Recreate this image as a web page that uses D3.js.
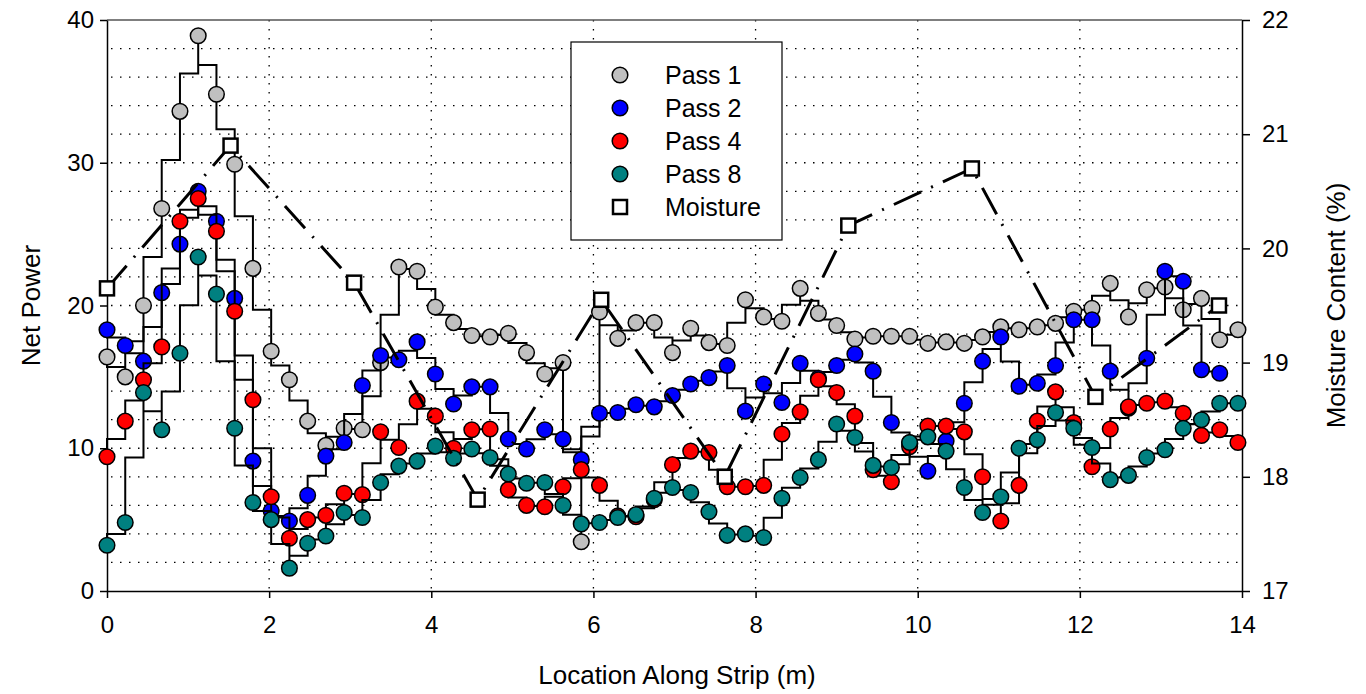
<!DOCTYPE html>
<html>
<head>
<meta charset="utf-8">
<script src="https://cdn.jsdelivr.net/npm/d3@7"></script>
<style>
  html, body { margin: 0; padding: 0; background: #fff; }
  svg text { font-family: "Liberation Sans", Arial, sans-serif; fill: #000; }
</style>
</head>
<body>
<svg id="chart" width="1366" height="694"></svg>
<script>
// sample spacing along the strip (m)
var sampleSpacing = 0.225;

var pass1 = [16.4, 15.0, 20.0, 26.8, 33.6, 38.9, 34.8, 29.9, 22.6, 16.8, 14.8, 11.9, 10.2, 11.4, 11.3, 16.0,
  22.7, 22.4, 19.9, 18.8, 17.9, 17.8, 18.05, 16.7, 15.2, 16.0, 3.45, 19.55, 17.7, 18.8, 18.8, 16.7,
  18.4, 17.4, 17.2, 20.4, 19.2, 18.9, 21.2, 19.45, 18.6, 17.65, 17.85, 17.85, 17.85, 17.35, 17.45, 17.35,
  17.8, 18.5, 18.3, 18.5, 18.75, 19.6, 19.8, 21.55, 19.2, 21.1, 21.3, 19.7, 20.5, 17.6, 18.3];

var pass2 = [18.3, 17.2, 16.1, 20.9, 24.3, 28.0, 25.9, 20.5, 9.1, 5.6, 4.9, 6.7, 9.45, 10.4, 14.4, 16.5,
  16.2, 17.45, 15.2, 13.1, 14.3, 14.3, 10.65, 9.95, 11.3, 10.65, 9.2, 12.45, 12.5, 13.05, 12.9, 13.7,
  14.5, 14.95, 15.8, 12.6, 14.5, 13.2, 15.95, 14.9, 15.8, 16.6, 15.4, 11.8, 10.4, 8.4, 10.5, 13.15,
  16.1, 17.8, 14.35, 14.55, 15.8, 19.0, 19.0, 15.4, 12.8, 16.3, 22.4, 21.7, 15.5, 15.25];

var pass4 = [9.4, 11.9, 14.8, 17.1, 25.9, 27.5, 25.2, 19.6, 13.4, 6.6, 3.7, 5.0, 5.3, 6.85, 6.75, 11.15,
  10.05, 13.3, 12.25, 10.0, 11.3, 11.35, 7.1, 6.0, 5.9, 7.3, 8.5, 7.4, 5.25, 5.2, 6.4, 8.85,
  9.8, 9.7, 7.3, 7.3, 7.4, 11.0, 12.55, 14.8, 13.9, 12.25, 8.5, 7.65, 10.1, 11.55, 11.55, 11.15,
  8.0, 4.9, 7.4, 11.9, 13.95, 11.8, 8.7, 11.35, 12.9, 13.15, 13.3, 12.45, 10.9, 11.3, 10.4];

var pass8 = [3.2, 4.8, 13.9, 11.3, 16.65, 23.4, 20.8, 11.4, 6.2, 5.0, 1.6, 3.35, 3.85, 5.5, 5.15, 7.6,
  8.75, 9.1, 10.15, 9.3, 9.95, 9.35, 8.2, 7.55, 7.6, 6.0, 4.7, 4.8, 5.15, 5.35, 6.5, 7.25,
  6.9, 5.55, 3.9, 4.0, 3.75, 6.5, 7.95, 9.2, 11.7, 10.75, 8.8, 8.65, 10.4, 10.8, 9.8, 7.25,
  5.5, 6.6, 10.0, 10.6, 12.5, 11.4, 10.05, 7.8, 8.1, 9.35, 9.9, 11.4, 12.0, 13.15, 13.15];

var moistureLocation = [0, 1.524, 3.048, 4.572, 6.096, 7.62, 9.144, 10.668, 12.192, 13.716];
var moisture = [19.65, 20.9, 19.7, 17.8, 19.55, 18.0, 20.2, 20.7, 18.7, 19.5];

var seriesNames = ['Pass 1', 'Pass 2', 'Pass 4', 'Pass 8'];
var seriesColors = ['#c0c0c0', '#0000ff', '#ff0000', '#008080'];
var seriesValues = [pass1, pass2, pass4, pass8];

var xTicks = [0, 2, 4, 6, 8, 10, 12, 14];
var yTicks = [0, 10, 20, 30, 40];
var y2Ticks = [17, 18, 19, 20, 21, 22];

var svg = d3.select('#chart');
var plotLeft = 107, plotRight = 1242, plotTop = 20, plotBottom = 591;

var x = d3.scaleLinear().domain([0, 14]).range([plotLeft, plotRight]);
var y = d3.scaleLinear().domain([0, 40]).range([plotBottom, plotTop]);
var y2 = d3.scaleLinear().domain([17, 22]).range([plotBottom, plotTop]);

// dotted grid
var grid = svg.append('g').attr('class', 'grid');
grid.selectAll('line.h')
  .data(d3.range(2, 40, 2))
  .enter().append('line')
    .attr('class', 'h')
    .attr('x1', plotLeft + 4).attr('x2', plotRight)
    .attr('y1', function(d) { return y(d); })
    .attr('y2', function(d) { return y(d); });
grid.selectAll('line.v')
  .data(d3.range(2, 14, 2))
  .enter().append('line')
    .attr('class', 'v')
    .attr('y1', plotTop).attr('y2', plotBottom)
    .attr('x1', function(d) { return x(d); })
    .attr('x2', function(d) { return x(d); });
grid.selectAll('line')
  .style('stroke', '#000')
  .style('stroke-width', 1.3)
  .style('stroke-dasharray', '1.5,7.5');

// top frame
svg.append('line')
  .attr('x1', plotLeft).attr('x2', plotRight).attr('y1', plotTop).attr('y2', plotTop)
  .style('stroke', '#555').style('stroke-width', 1.5);

// axes
function styleAxis(g) {
  g.selectAll('path, line').style('stroke', '#000').style('stroke-width', 1.5);
  g.selectAll('text').style('font-size', '24px')
    .style('font-family', '"Liberation Sans", Arial, sans-serif');
}

svg.append('g')
  .attr('transform', 'translate(0,' + plotBottom + ')')
  .call(d3.axisBottom(x).tickValues(xTicks).tickSize(7).tickSizeOuter(0).tickPadding(18))
  .call(styleAxis);

svg.append('g')
  .attr('transform', 'translate(' + plotLeft + ',0)')
  .call(d3.axisLeft(y).tickValues(yTicks).tickSize(7).tickSizeOuter(0).tickPadding(6))
  .call(styleAxis);

svg.append('g')
  .attr('transform', 'translate(' + plotRight + ',0)')
  .call(d3.axisRight(y2).tickValues(y2Ticks).tickFormat(d3.format('d'))
    .tickSize(8).tickSizeOuter(0).tickPadding(12))
  .call(styleAxis);

// step path through each point: vertical to the mid level, across, vertical to next point
function stepPath(values) {
  var p = d3.path();
  values.forEach(function(v, i) {
    var px = x(i * sampleSpacing), py = y(v);
    if (i === 0) { p.moveTo(px, py); return; }
    var prev = values[i - 1];
    var mid = y((prev + v) / 2);
    p.lineTo(x((i - 1) * sampleSpacing), mid);
    p.lineTo(px, mid);
    p.lineTo(px, py);
  });
  return p.toString();
}

seriesValues.forEach(function(values, k) {
  var g = svg.append('g').attr('class', 'series s' + k);
  g.append('path')
    .attr('d', stepPath(values))
    .style('fill', 'none')
    .style('stroke', '#000')
    .style('stroke-width', 2);
  g.selectAll('circle')
    .data(values)
    .enter().append('circle')
      .attr('cx', function(d, i) { return x(i * sampleSpacing); })
      .attr('cy', function(d) { return y(d); })
      .attr('r', 7.8)
      .style('fill', seriesColors[k])
      .style('stroke', '#000')
      .style('stroke-width', 1.5);
});

// moisture
var moist = moistureLocation.map(function(d, i) { return { loc: d, val: moisture[i] }; });
svg.append('path')
  .datum(moist)
  .attr('d', d3.line()
    .x(function(d) { return x(d.loc); })
    .y(function(d) { return y2(d.val); }))
  .style('fill', 'none')
  .style('stroke', '#000')
  .style('stroke-width', 3)
  .style('stroke-dasharray', '30,11,2,11');

svg.selectAll('rect.moist')
  .data(moist)
  .enter().append('rect')
    .attr('class', 'moist')
    .attr('x', function(d) { return x(d.loc) - 7; })
    .attr('y', function(d) { return y2(d.val) - 7; })
    .attr('width', 14).attr('height', 14)
    .style('fill', '#fff')
    .style('stroke', '#000')
    .style('stroke-width', 2.5);

// legend
var legend = svg.append('g').attr('class', 'legend');
legend.append('rect')
  .attr('x', 571).attr('y', 42).attr('width', 211).attr('height', 198)
  .style('fill', '#fff').style('stroke', '#000').style('stroke-width', 1.2);

var legendRows = seriesNames.concat(['Moisture']);
legendRows.forEach(function(name, i) {
  var cy = 75 + i * 33;
  if (i < 4) {
    legend.append('circle')
      .attr('cx', 620).attr('cy', cy).attr('r', 7.8)
      .style('fill', seriesColors[i]).style('stroke', '#000').style('stroke-width', 1.5);
  } else {
    legend.append('rect')
      .attr('x', 613).attr('y', cy - 7).attr('width', 14).attr('height', 14)
      .style('fill', '#fff').style('stroke', '#000').style('stroke-width', 2.5);
  }
  legend.append('text')
    .attr('x', 665).attr('y', cy)
    .attr('dy', '0.36em')
    .style('font-size', '25px')
    .text(name);
});

// axis titles
svg.append('text')
  .attr('x', 677).attr('y', 684)
  .attr('text-anchor', 'middle')
  .style('font-size', '26px')
  .text('Location Along Strip (m)');

svg.append('text')
  .attr('transform', 'translate(40,' + ((plotTop + plotBottom) / 2) + ') rotate(-90)')
  .attr('text-anchor', 'middle')
  .style('font-size', '26px')
  .text('Net Power');

svg.append('text')
  .attr('transform', 'translate(1345,' + ((plotTop + plotBottom) / 2) + ') rotate(-90)')
  .attr('text-anchor', 'middle')
  .style('font-size', '26px')
  .text('Moisture Content (%)');
</script>
</body>
</html>
